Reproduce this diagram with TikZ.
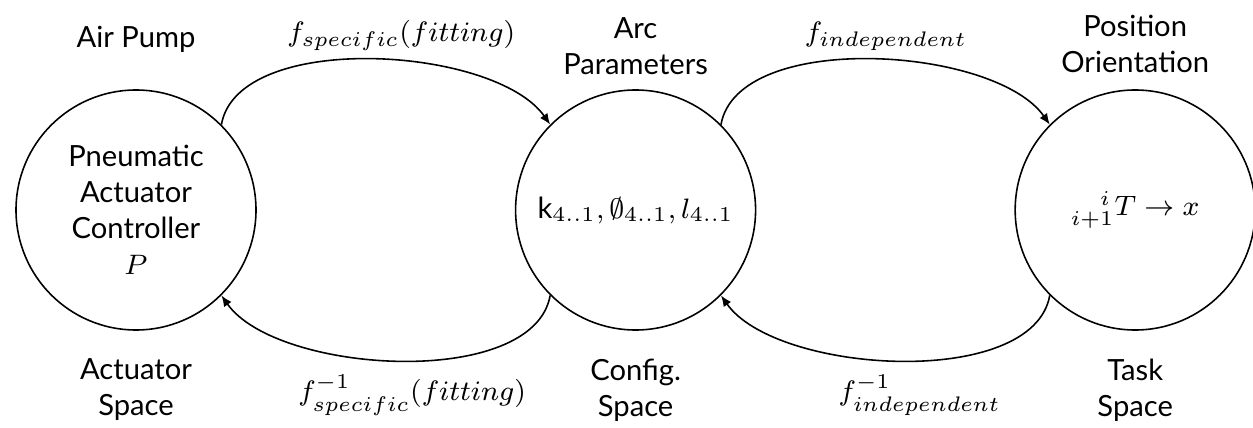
\documentclass[tikz,border=0pt]{standalone}
\usepackage{fontspec}
\setmainfont{Lato}
\usetikzlibrary{arrows.meta,positioning}

\begin{document}
\begin{tikzpicture}[
  node distance=2.58cm,
  space/.style={draw,circle,line width=0.45pt,minimum size=2.4cm,inner sep=0pt,align=center,font=\fontsize{8.3}{10.2}\selectfont},
  lbl/.style={align=center,inner sep=1pt,font=\fontsize{8.3}{10.2}\selectfont},
  fn/.style={inner sep=1pt,font=\fontsize{8.5}{10}\selectfont},
  arr/.style={line width=0.45pt,-{Latex[length=1.1mm,width=0.9mm]}}
]
\useasboundingbox (0,0) rectangle (12.53,4.27);
% three spaces in one row
\node[space] (act) at (1.36,2.17) {Pneumatic\\Actuator\\Controller\\$P$};
\node[space,right=of act] (cfg) {\fontsize{8.3}{10}\selectfont$\mathrm{k}_{4..1},\emptyset_{4..1},l_{4..1}$};
\node[space,right=of cfg] (tsk) {\fontsize{8}{10}\selectfont${}^{\hphantom{i+}i}_{i+1}T\rightarrow x$};

% names above and below
\node[lbl,above=0.32cm of act] (pump) {Air Pump};
\node[lbl,above=0.1cm of cfg] (arcp) {Arc\\Parameters};
\node[lbl,above=0.12cm of tsk] (pose) {Position\\Orientation};
\node[lbl,below=0.24cm of act] (acts) {Actuator\\Space};
\node[lbl,below=0.24cm of cfg] (cfgs) {Config.\\Space};
\node[lbl,below=0.24cm of tsk] (tsks) {Task\\Space};

% forward maps
\draw[arr] (act.45) .. controls +(80:0.96) and +(125:0.96) .. (cfg.135)
  node[fn,midway,above=0.05cm,xshift=0.3cm] (fsp) {$f_{specific}(fitting)$};
\draw[arr] (cfg.45) .. controls +(80:0.96) and +(125:0.96) .. (tsk.135)
  node[fn,midway,above=0.05cm,xshift=0.15cm] (find) {$f_{independent}$};
% inverse maps
\draw[arr] (cfg.-135) .. controls +(-100:0.96) and +(-55:0.96) .. (act.-45)
  node[fn,midway,below=0.1cm,xshift=0.12cm] (fspi) {$f^{-1}_{specific}(fitting)$};
\draw[arr] (tsk.-135) .. controls +(-100:0.96) and +(-55:0.96) .. (cfg.-45)
  node[fn,midway,below=0.1cm,xshift=0.2cm] (findi) {$f^{-1}_{independent}$};
\end{tikzpicture}
\end{document}
